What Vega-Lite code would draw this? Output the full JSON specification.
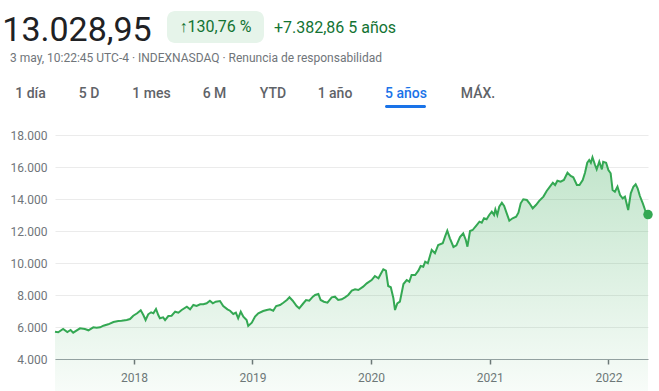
{
  "$schema": "https://vega.github.io/schema/vega-lite/v6.json",
  "padding": 0,
  "background": "white",
  "spacing": 0,
  "config": {
    "view": {"stroke": null},
    "font": "Roboto",
    "concat": {"spacing": 0}
  },
  "vconcat": [
    {"width": 10, "height": 11, "data": {"values": []}, "mark": "text"},
    {
      "hconcat": [
        {"width": 154, "height": 40, "data": {"values": [{"t": "13.028,95"}]},
         "mark": {"type": "text", "fontSize": 34, "color": "#202124"},
         "encoding": {"text": {"field": "t"}}},
        {"width": 13, "height": 32, "data": {"values": []}, "mark": "text"},
        {"width": 97, "height": 32, "view": {"fill": "#e6f4ea", "cornerRadius": 8},
         "data": {"values": [{"t": "↑130,76 %"}]},
         "mark": {"type": "text", "fontSize": 16, "color": "#137333"},
         "encoding": {"text": {"field": "t"}}},
        {"width": 142, "height": 34, "data": {"values": [{"t": "+7.382,86 5 años"}]},
         "mark": {"type": "text", "fontSize": 16, "color": "#137333"},
         "encoding": {"text": {"field": "t"}}}
      ],
      "bounds": "flush",
      "spacing": 0
    },
    {"width": 392, "height": 14,
     "data": {"values": [{"t": "3 may, 10:22:45 UTC-4 · INDEXNASDAQ · Renuncia de responsabilidad"}]},
     "mark": {"type": "text", "fontSize": 12, "color": "#70757a"},
     "encoding": {"text": {"field": "t"}}},
    {"width": 10, "height": 18, "data": {"values": []}, "mark": "text"},
    {
      "hconcat": [
        {"width": 61, "height": 22, "data": {"values": [{"t": "1 día"}]}, "mark": {"type": "text", "fontSize": 14, "fontWeight": 500, "color": "#5f6368"}, "encoding": {"text": {"field": "t"}}},
        {"width": 56, "height": 22, "data": {"values": [{"t": "5 D"}]}, "mark": {"type": "text", "fontSize": 14, "fontWeight": 500, "color": "#5f6368"}, "encoding": {"text": {"field": "t"}}},
        {"width": 69, "height": 22, "data": {"values": [{"t": "1 mes"}]}, "mark": {"type": "text", "fontSize": 14, "fontWeight": 500, "color": "#5f6368"}, "encoding": {"text": {"field": "t"}}},
        {"width": 57, "height": 22, "data": {"values": [{"t": "6 M"}]}, "mark": {"type": "text", "fontSize": 14, "fontWeight": 500, "color": "#5f6368"}, "encoding": {"text": {"field": "t"}}},
        {"width": 60, "height": 22, "data": {"values": [{"t": "YTD"}]}, "mark": {"type": "text", "fontSize": 14, "fontWeight": 500, "color": "#5f6368"}, "encoding": {"text": {"field": "t"}}},
        {"width": 64, "height": 22, "data": {"values": [{"t": "1 año"}]}, "mark": {"type": "text", "fontSize": 14, "fontWeight": 500, "color": "#5f6368"}, "encoding": {"text": {"field": "t"}}},
        {"width": 78, "height": 22, "data": {"values": [{"t": "5 años"}]}, "mark": {"type": "text", "fontSize": 14, "fontWeight": 500, "color": "#1a73e8"}, "encoding": {"text": {"field": "t"}}},
        {"width": 66, "height": 22, "data": {"values": [{"t": "MÁX."}]}, "mark": {"type": "text", "fontSize": 14, "fontWeight": 500, "color": "#5f6368"}, "encoding": {"text": {"field": "t"}}}
      ],
      "bounds": "flush",
      "spacing": 0
    },
    {
      "hconcat": [
        {"width": 385, "height": 3, "data": {"values": []}, "mark": "text"},
        {"width": 41, "height": 3, "view": {"fill": "#1a73e8", "cornerRadius": 1.5}, "data": {"values": []}, "mark": "text"}
      ],
      "bounds": "flush",
      "spacing": 0
    },
    {"width": 10, "height": 21, "data": {"values": []}, "mark": "text"},
    {
      "hconcat": [
        {"width": 55, "height": 224, "data": {"values": []}, "mark": "text"},
        {
          "width": 593,
          "height": 224,
          "data": {"values": [
            {"d": "2017-05-03", "v": 5700}, {"d": "2017-05-13", "v": 5669}, {"d": "2017-05-28", "v": 5875},
            {"d": "2017-06-10", "v": 5687}, {"d": "2017-06-20", "v": 5812}, {"d": "2017-06-28", "v": 5644},
            {"d": "2017-07-19", "v": 5919}, {"d": "2017-08-03", "v": 5875}, {"d": "2017-08-14", "v": 5794},
            {"d": "2017-08-29", "v": 5981}, {"d": "2017-09-08", "v": 5956}, {"d": "2017-09-19", "v": 5981},
            {"d": "2017-09-29", "v": 6081}, {"d": "2017-10-14", "v": 6169}, {"d": "2017-10-30", "v": 6312},
            {"d": "2017-11-14", "v": 6375}, {"d": "2017-11-24", "v": 6394}, {"d": "2017-12-10", "v": 6437},
            {"d": "2017-12-20", "v": 6500}, {"d": "2017-12-30", "v": 6706}, {"d": "2018-01-11", "v": 6856},
            {"d": "2018-01-22", "v": 7044}, {"d": "2018-01-30", "v": 6750}, {"d": "2018-02-06", "v": 6437},
            {"d": "2018-02-14", "v": 6794}, {"d": "2018-02-23", "v": 6919}, {"d": "2018-03-02", "v": 6856},
            {"d": "2018-03-10", "v": 7125}, {"d": "2018-03-17", "v": 6750}, {"d": "2018-03-22", "v": 6544},
            {"d": "2018-04-01", "v": 6606}, {"d": "2018-04-07", "v": 6437}, {"d": "2018-04-17", "v": 6687},
            {"d": "2018-04-27", "v": 6706}, {"d": "2018-05-08", "v": 6956}, {"d": "2018-05-18", "v": 6894},
            {"d": "2018-05-28", "v": 7062}, {"d": "2018-06-13", "v": 7269}, {"d": "2018-06-23", "v": 7106},
            {"d": "2018-07-03", "v": 7375}, {"d": "2018-07-13", "v": 7312}, {"d": "2018-07-24", "v": 7419},
            {"d": "2018-08-03", "v": 7419}, {"d": "2018-08-13", "v": 7481}, {"d": "2018-08-23", "v": 7644},
            {"d": "2018-09-01", "v": 7481}, {"d": "2018-09-10", "v": 7581}, {"d": "2018-09-23", "v": 7625},
            {"d": "2018-10-03", "v": 7312}, {"d": "2018-10-16", "v": 7106}, {"d": "2018-10-24", "v": 7019},
            {"d": "2018-11-03", "v": 6812}, {"d": "2018-11-11", "v": 6894}, {"d": "2018-11-18", "v": 6544},
            {"d": "2018-11-26", "v": 6956}, {"d": "2018-12-04", "v": 6644}, {"d": "2018-12-14", "v": 6437},
            {"d": "2018-12-19", "v": 6062}, {"d": "2018-12-30", "v": 6269}, {"d": "2019-01-09", "v": 6650},
            {"d": "2019-01-19", "v": 6856}, {"d": "2019-02-03", "v": 7000}, {"d": "2019-02-14", "v": 7062},
            {"d": "2019-02-24", "v": 7106}, {"d": "2019-03-06", "v": 7019}, {"d": "2019-03-15", "v": 7312},
            {"d": "2019-03-27", "v": 7375}, {"d": "2019-04-06", "v": 7519}, {"d": "2019-04-17", "v": 7687},
            {"d": "2019-04-25", "v": 7856}, {"d": "2019-05-05", "v": 7644}, {"d": "2019-05-17", "v": 7312},
            {"d": "2019-05-25", "v": 7169}, {"d": "2019-06-05", "v": 7437}, {"d": "2019-06-15", "v": 7687},
            {"d": "2019-06-25", "v": 7644}, {"d": "2019-07-06", "v": 7894}, {"d": "2019-07-13", "v": 8000},
            {"d": "2019-07-23", "v": 8062}, {"d": "2019-07-30", "v": 7687}, {"d": "2019-08-09", "v": 7581},
            {"d": "2019-08-20", "v": 7519}, {"d": "2019-09-02", "v": 7856}, {"d": "2019-09-12", "v": 7894},
            {"d": "2019-09-22", "v": 7687}, {"d": "2019-10-03", "v": 7731}, {"d": "2019-10-13", "v": 7856},
            {"d": "2019-10-23", "v": 8000}, {"d": "2019-11-03", "v": 8269}, {"d": "2019-11-13", "v": 8356},
            {"d": "2019-11-23", "v": 8312}, {"d": "2019-12-08", "v": 8519}, {"d": "2019-12-19", "v": 8731},
            {"d": "2020-01-03", "v": 8937}, {"d": "2020-01-13", "v": 9187}, {"d": "2020-01-24", "v": 9044},
            {"d": "2020-01-31", "v": 9312}, {"d": "2020-02-08", "v": 9606}, {"d": "2020-02-16", "v": 9519},
            {"d": "2020-02-23", "v": 8562}, {"d": "2020-03-02", "v": 8481}, {"d": "2020-03-10", "v": 7794},
            {"d": "2020-03-15", "v": 7062}, {"d": "2020-03-22", "v": 7481}, {"d": "2020-03-30", "v": 7581},
            {"d": "2020-04-10", "v": 8687}, {"d": "2020-04-20", "v": 8937}, {"d": "2020-04-28", "v": 8831},
            {"d": "2020-05-05", "v": 9250}, {"d": "2020-05-16", "v": 9250}, {"d": "2020-05-26", "v": 9519},
            {"d": "2020-06-02", "v": 9812}, {"d": "2020-06-10", "v": 9769}, {"d": "2020-06-16", "v": 10081},
            {"d": "2020-06-24", "v": 9981}, {"d": "2020-07-06", "v": 10812}, {"d": "2020-07-16", "v": 10606},
            {"d": "2020-07-26", "v": 11125}, {"d": "2020-08-09", "v": 11231}, {"d": "2020-08-16", "v": 11644},
            {"d": "2020-08-23", "v": 12019}, {"d": "2020-08-31", "v": 11544}, {"d": "2020-09-11", "v": 11000},
            {"d": "2020-09-20", "v": 11100}, {"d": "2020-10-01", "v": 11625}, {"d": "2020-10-11", "v": 11856},
            {"d": "2020-10-19", "v": 11437}, {"d": "2020-10-24", "v": 11019}, {"d": "2020-11-01", "v": 12000},
            {"d": "2020-11-09", "v": 12062}, {"d": "2020-11-19", "v": 12312}, {"d": "2020-11-30", "v": 12581},
            {"d": "2020-12-07", "v": 12519}, {"d": "2020-12-14", "v": 12794}, {"d": "2020-12-22", "v": 12731},
            {"d": "2020-12-30", "v": 13000}, {"d": "2021-01-07", "v": 13206}, {"d": "2021-01-14", "v": 13000},
            {"d": "2021-01-18", "v": 13356}, {"d": "2021-01-24", "v": 13000}, {"d": "2021-01-30", "v": 13519},
            {"d": "2021-02-07", "v": 13769}, {"d": "2021-02-14", "v": 13562}, {"d": "2021-02-22", "v": 13106},
            {"d": "2021-03-02", "v": 12644}, {"d": "2021-03-12", "v": 12794}, {"d": "2021-03-23", "v": 12894},
            {"d": "2021-03-30", "v": 13144}, {"d": "2021-04-06", "v": 13731}, {"d": "2021-04-14", "v": 13981},
            {"d": "2021-04-25", "v": 13937}, {"d": "2021-05-03", "v": 13731}, {"d": "2021-05-13", "v": 13419},
            {"d": "2021-05-23", "v": 13625}, {"d": "2021-06-02", "v": 13880}, {"d": "2021-06-15", "v": 14150},
            {"d": "2021-06-25", "v": 14500}, {"d": "2021-07-05", "v": 14769}, {"d": "2021-07-14", "v": 15019},
            {"d": "2021-07-21", "v": 14875}, {"d": "2021-07-28", "v": 15144}, {"d": "2021-08-07", "v": 15081},
            {"d": "2021-08-17", "v": 15187}, {"d": "2021-08-28", "v": 15644}, {"d": "2021-09-07", "v": 15437},
            {"d": "2021-09-15", "v": 15356}, {"d": "2021-09-26", "v": 14875}, {"d": "2021-10-04", "v": 14875},
            {"d": "2021-10-14", "v": 15187}, {"d": "2021-10-21", "v": 15644}, {"d": "2021-10-28", "v": 16269},
            {"d": "2021-11-03", "v": 16437}, {"d": "2021-11-08", "v": 16269}, {"d": "2021-11-13", "v": 16606},
            {"d": "2021-11-21", "v": 16125}, {"d": "2021-11-26", "v": 15856}, {"d": "2021-12-04", "v": 16331},
            {"d": "2021-12-12", "v": 15856}, {"d": "2021-12-16", "v": 16331}, {"d": "2021-12-25", "v": 16269},
            {"d": "2022-01-01", "v": 15812}, {"d": "2022-01-08", "v": 15606}, {"d": "2022-01-14", "v": 14562},
            {"d": "2022-01-21", "v": 14456}, {"d": "2022-01-29", "v": 14769}, {"d": "2022-02-06", "v": 14250},
            {"d": "2022-02-14", "v": 14044}, {"d": "2022-02-21", "v": 14144}, {"d": "2022-03-03", "v": 13312},
            {"d": "2022-03-11", "v": 14356}, {"d": "2022-03-19", "v": 14769}, {"d": "2022-03-26", "v": 14919},
            {"d": "2022-04-01", "v": 14669}, {"d": "2022-04-08", "v": 14187}, {"d": "2022-04-17", "v": 13731},
            {"d": "2022-04-24", "v": 13312}, {"d": "2022-04-29", "v": 13062}, {"d": "2022-05-03", "v": 13029}
          ]},
          "encoding": {
            "x": {
              "field": "d", "type": "temporal", "title": null,
              "scale": {"type": "utc", "domain": [{"year": 2017, "month": 5, "date": 3, "utc": true}, {"year": 2022, "month": 5, "date": 3, "utc": true}]},
              "axis": {"format": "%Y", "tickCount": "year", "grid": false, "domainColor": "#9aa0a6", "tickColor": "#70757a", "tickSize": 5, "tickWidth": 1.5, "labelColor": "#70757a", "labelFontSize": 12, "labelPadding": 8, "labelFont": "Roboto"}
            },
            "y": {
              "field": "v", "type": "quantitative", "title": null,
              "scale": {"domain": [4000, 18000]},
              "axis": {"values": [4000, 6000, 8000, 10000, 12000, 14000, 16000, 18000], "labelExpr": "replace(format(datum.value, ','), ',', '.')", "ticks": false, "domain": false, "gridColor": "#ebebeb", "labelColor": "#70757a", "labelFontSize": 12, "labelPadding": 8, "labelFont": "Roboto"}
            }
          },
          "layer": [
            {"mark": {"type": "area", "color": {"gradient": "linear", "x1": 0, "y1": 0, "x2": 0, "y2": 1, "stops": [{"offset": 0, "color": "rgba(52,168,83,0.3)"}, {"offset": 1, "color": "rgba(52,168,83,0)"}]}}},
            {"mark": {"type": "line", "color": "#34a853", "strokeWidth": 2}},
            {"transform": [{"window": [{"op": "row_number", "as": "rn"}], "sort": [{"field": "d", "order": "descending"}]}, {"filter": "datum.rn == 1"}],
             "mark": {"type": "point", "filled": true, "size": 90, "color": "#34a853", "opacity": 1}}
          ]
        }
      ],
      "bounds": "flush",
      "spacing": 0
    }
  ]
}
